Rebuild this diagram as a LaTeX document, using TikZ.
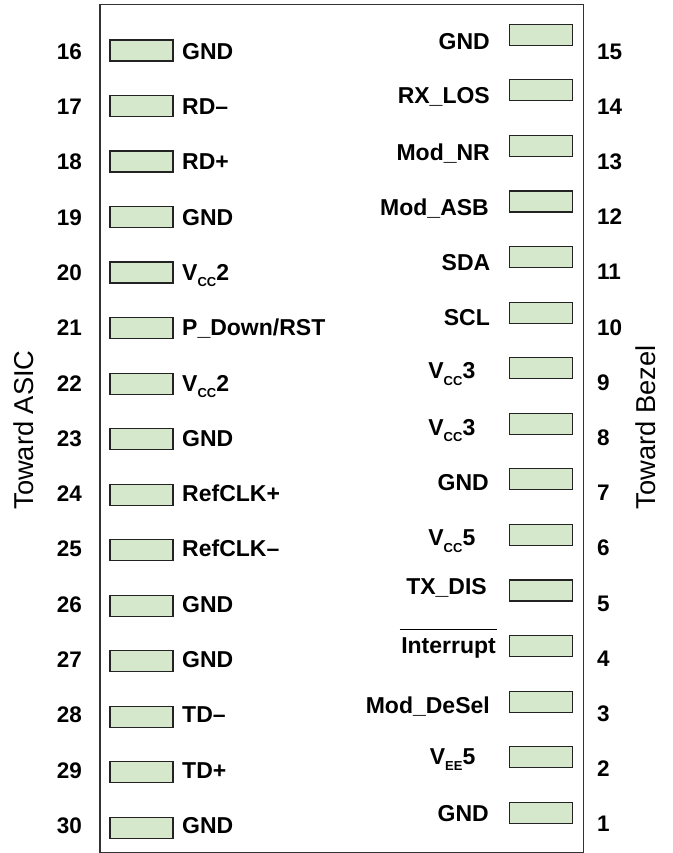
\documentclass[tikz,border=0pt]{standalone}
\usepackage{fontspec}
\setmainfont{Liberation Sans}
\definecolor{padfill}{RGB}{213,232,203}
\definecolor{padline}{RGB}{35,35,35}
\definecolor{boxline}{RGB}{50,50,50}
\newcommand{\subs}[1]{\raisebox{-6.5pt}{\fontsize{13}{13}\selectfont #1}}
\begin{document}
\begin{tikzpicture}[x=1pt,y=-1pt,
  pad/.style={draw=padline, fill=padfill, line width=1.2pt, minimum width=63pt, minimum height=21pt, inner sep=0pt, outer sep=0pt},
  lbl/.style={font=\fontsize{23}{23}\selectfont\bfseries, inner sep=0pt},
  num/.style={font=\fontsize{22.5}{22.5}\selectfont\bfseries, inner sep=0pt},
  side/.style={font=\fontsize{27.3}{27.3}\selectfont, inner sep=0pt, rotate=90, anchor=base},
]
\useasboundingbox (0,0) rectangle (672,853);
\node[draw=boxline, line width=1.5pt, minimum width=483.7pt, minimum height=848pt, inner sep=0pt, anchor=north west] (module) at (99,4) {};

% left side pads, labels, numbers
\foreach \i in {16,...,30} {
  \node[pad] (pL\i) at (141.5, {50.5+(\i-16)*55.52}) {};
  \node[num, anchor=base east] (nL\i) at (82, {59.3+(\i-16)*55.29}) {\i};
}
\foreach \i/\t in {16/GND, 17/RD–, 18/RD+, 19/GND, 20/{V\subs{CC}2}, 21/{P\_Down/RST},
  22/{V\subs{CC}2}, 23/GND, 24/RefCLK+, 25/RefCLK–, 26/GND, 27/GND, 28/TD–, 29/TD+, 30/GND} {
  \node[lbl, anchor=base west] (tL\i) at (182, {59.3+(\i-16)*55.29}) {\t};
}

% right side pads and numbers
\foreach \j in {1,...,15} {
  \node[pad] (pR\j) at (541, {34.8+(15-\j)*55.57}) {};
  \node[num, anchor=base west] (nR\j) at (597, {59.3+(15-\j)*55.17}) {\j};
}
% right side labels
\foreach \j/\x/\y/\t in {15/490/49.3/GND, 14/490/104/RX\_LOS, 13/490/160.7/Mod\_NR,
  12/489/215/Mod\_ASB, 11/490.5/270/SDA, 10/490/325/SCL,
  9/475.5/378.5/{V\subs{CC}3}, 8/475.5/435/{V\subs{CC}3}, 7/489/490.7/GND,
  6/475.5/545.7/{V\subs{CC}5}, 5/487/594/TX\_DIS, 4/496/653/Interrupt,
  3/490/713.3/Mod\_DeSel, 2/475.5/764/{V\subs{EE}5}, 1/489/821.7/GND} {
  \node[lbl, anchor=base east] (tR\j) at (\x, \y) {\t};
}
\draw[line width=1pt] ([xshift=-1.5pt,yshift=7.5pt]tR4.north west) -- ([xshift=0.5pt,yshift=7.5pt]tR4.north east);

% side captions
\node[side] (asic) at (33.3, 430) {Toward ASIC};
\node[side] (bezel) at (655.3, 427.5) {Toward Bezel};
\end{tikzpicture}
\end{document}
